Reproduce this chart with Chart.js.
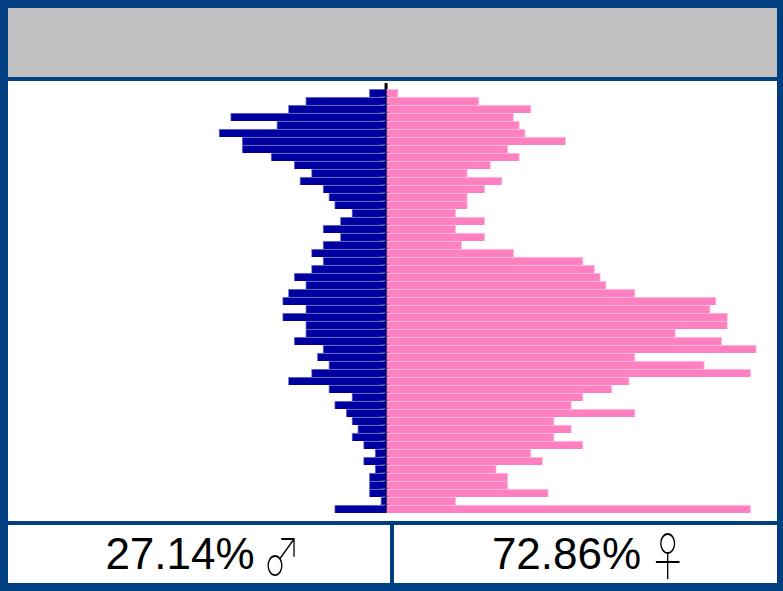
<!DOCTYPE html>
<html>
<head>
<meta charset="utf-8">
<script src="https://cdn.jsdelivr.net/npm/chart.js@4"></script>
<style>
  body { margin: 0; background: #004080; }
  #frame { position: relative; width: 783px; height: 591px; background: #004080; overflow: hidden; }
  #header { position: absolute; left: 8px; top: 8px; width: 769px; height: 69px; background: #c0c0c0; }
  #plot { position: absolute; left: 8px; top: 81px; width: 769px; height: 440px; background: #fff; }
  .share { position: absolute; top: 525px; height: 58px; background: #fff;
           display: flex; align-items: center; justify-content: center;
           font-family: "Liberation Sans", Arial, sans-serif; font-size: 44px; color: #000; }
  .share .sym { display: inline-block; font-family: "Noto Sans CJK JP", "DejaVu Sans", sans-serif;
                font-size: 52px; font-weight: 100; line-height: 1; width: 30px; margin-left: 8px;
                transform: scaleX(0.72); transform-origin: left center; }
  #maleBox { left: 8px; width: 382px; }
  #femaleBox { left: 394px; width: 383px; }
</style>
</head>
<body>
<div id="frame">
  <div id="header"></div>
  <div id="plot"><canvas id="pyramid" width="769" height="440"></canvas></div>
  <div class="share" id="maleBox"><span id="maleText"></span><span class="sym">♂</span></div>
  <div class="share" id="femaleBox"><span id="femaleText"></span><span class="sym">♀</span></div>
</div>
<script>
// rows from top to bottom of the pyramid
const rows = Array.from({ length: 53 }, (_, i) => String(53 - i));

const male = [3, 14, 17, 27, 19, 29, 25, 25, 20, 16, 13, 15, 11, 10, 9, 6, 8, 11, 8, 11,
              13, 11, 13, 16, 14, 17, 18, 14, 18, 14, 14, 16, 11, 12, 10, 13, 17, 10, 6, 9,
              7, 6, 5, 6, 4, 2, 4, 2, 3, 3, 3, 1, 9];

const female = [2, 16, 25, 22, 23, 24, 31, 21, 23, 18, 14, 20, 17, 14, 14, 12, 17, 12, 17, 13,
                22, 34, 36, 37, 38, 43, 57, 56, 59, 59, 50, 58, 64, 43, 55, 63, 42, 39, 34, 32,
                43, 29, 32, 29, 34, 25, 27, 19, 21, 21, 28, 12, 63];

const sum = a => a.reduce((s, v) => s + v, 0);
const total = sum(male) + sum(female);
document.getElementById('maleText').textContent = (sum(male) / total * 100).toFixed(2) + '%';
document.getElementById('femaleText').textContent = (sum(female) / total * 100).toFixed(2) + '%';

// centre axis with small row ticks and the little marker on top
const centreLine = {
    id: 'centreLine',
    afterDatasetsDraw(chart) {
        const ctx = chart.ctx;
        const x0 = chart.scales.x.getPixelForValue(0);
        const y = chart.scales.y;
        const area = chart.chartArea;
        ctx.save();
        ctx.fillStyle = '#000070';
        ctx.fillRect(x0 - 2, area.top, 2, area.bottom - area.top);
        ctx.fillStyle = 'rgba(70, 70, 120, 0.8)';
        for (let i = 1; i < rows.length; i++) {
            const yb = (y.getPixelForValue(i - 1) + y.getPixelForValue(i)) / 2;
            ctx.fillRect(x0 - 6, Math.round(yb) - 1, 8, 1);
        }
        ctx.fillStyle = '#000';
        ctx.fillRect(x0 - 2, area.top - 6, 3, 6);
        ctx.restore();
    }
};

new Chart(document.getElementById('pyramid'), {
    type: 'bar',
    data: {
        labels: rows,
        datasets: [{
            label: 'Male',
            data: male.map(v => -v),
            backgroundColor: '#0000a0',
            borderColor: '#8585cc',
            borderWidth: { top: 1, left: 1, bottom: 0, right: 0 },
            borderSkipped: false,
            categoryPercentage: 1,
            barPercentage: 1
        }, {
            label: 'Female',
            data: female,
            backgroundColor: '#ff80c0',
            borderColor: '#ffc4e2',
            borderWidth: { top: 1, right: 1, bottom: 0, left: 0 },
            borderSkipped: false,
            categoryPercentage: 1,
            barPercentage: 1
        }]
    },
    options: {
        indexAxis: 'y',
        responsive: false,
        animation: false,
        layout: { padding: { top: 8, bottom: 8, left: 0, right: 0 } },
        plugins: {
            legend: { display: false },
            tooltip: { enabled: false }
        },
        scales: {
            x: { stacked: true, min: -65.5, max: 67.55, display: false },
            y: { stacked: true, display: false }
        }
    },
    plugins: [centreLine]
});
</script>
</body>
</html>
